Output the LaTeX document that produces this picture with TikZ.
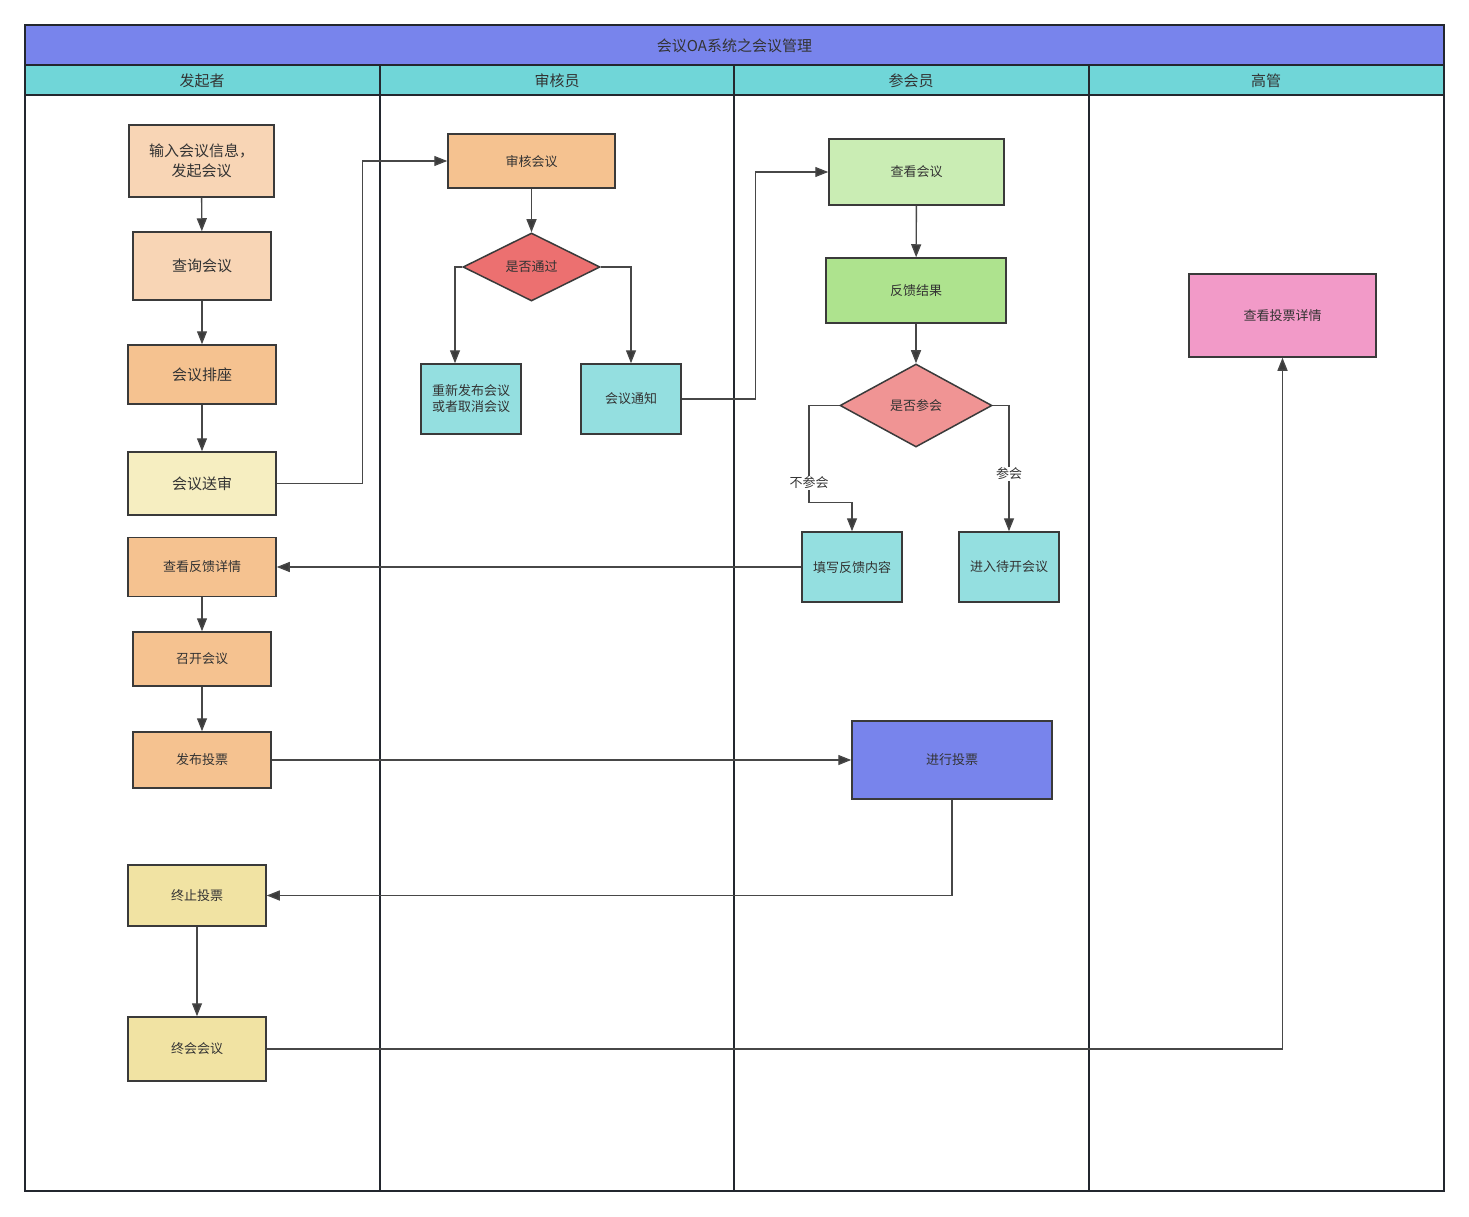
\documentclass[tikz,border=0pt]{standalone}
\usepackage{fontspec}
\setmainfont{Noto Sans CJK SC}
\usetikzlibrary{arrows.meta,shapes.geometric,calc}
\definecolor{titleblue}{HTML}{7884EC}
\definecolor{headcyan}{HTML}{70D6D8}
\definecolor{lanedark}{HTML}{23272E}
\definecolor{boxline}{HTML}{3A3A3A}
\definecolor{edgecol}{HTML}{474747}
\definecolor{txt}{HTML}{333333}
\definecolor{peach}{HTML}{F8D5B5}
\definecolor{orange}{HTML}{F5C290}
\definecolor{lyellow}{HTML}{F6EEC1}
\definecolor{khaki}{HTML}{F1E3A3}
\definecolor{cyanbox}{HTML}{94DFE0}
\definecolor{reddia}{HTML}{EC7070}
\definecolor{pinkdia}{HTML}{F09494}
\definecolor{lgreen}{HTML}{CAEDB4}
\definecolor{mgreen}{HTML}{AEE38E}
\definecolor{pinkbox}{HTML}{F29AC8}
\begin{document}
\begin{tikzpicture}[x=1pt,y=-1pt,
  box/.style={draw=boxline, line width=1.5pt, inner sep=0pt, align=center, text=txt,
    font=\fontsize{13}{16}\selectfont, text depth=1pt},
  big/.style={font=\fontsize{15}{20}\selectfont},
  wh/.style 2 args={minimum width=#1pt, minimum height=#2pt},
  dia/.style={box, diamond, shape aspect=#1},
  arr/.style={draw=edgecol, line width=1.4pt, -{Triangle[length=13pt,width=10pt,fill=boxline]}},
  lane/.style={draw=lanedark, line width=2pt},
  lbl/.style={fill=white, inner sep=1pt, text=txt, font=\fontsize{13}{16}\selectfont},
  head/.style={text=txt, font=\fontsize{15}{18}\selectfont, inner sep=0pt}
]
\useasboundingbox (0,0) rectangle (1469,1217);
\fill[white] (0,0) rectangle (1469,1217);
% pool and lanes
\fill[titleblue] (25,25) rectangle (1444,65);
\fill[headcyan] (25,65) rectangle (1444,95);
\draw[lane] (25,65) -- (1444,65);
\draw[lane] (25,95) -- (1444,95);
\draw[lane] (380,65) -- (380,1191);
\draw[lane] (734,65) -- (734,1191);
\draw[lane] (1089,65) -- (1089,1191);
\draw[lane] (25,25) rectangle (1444,1191);
\node[head] (title) at (734.5,46) {会议OA系统之会议管理};
\node[head] (h1) at (202,81) {发起者};
\node[head] (h2) at (557,81) {审核员};
\node[head] (h3) at (911,81) {参会员};
\node[head] (h4) at (1266,81) {高管};
% lane 1
\node[box, big, fill=peach, wh={145}{72}] (n1) at (201.5,161) {输入会议信息，\\发起会议};
\node[box, big, fill=peach, wh={138}{68}] (n2) at (202,266) {查询会议};
\node[box, big, fill=orange, wh={148}{59}] (n3) at (202,374.5) {会议排座};
\node[box, big, fill=lyellow, wh={148}{63}] (n4) at (202,483.5) {会议送审};
\node[box, fill=orange, wh={148}{59}] (n5) at (202,567) {查看反馈详情};
\node[box, fill=orange, wh={138}{54}] (n6) at (202,659) {召开会议};
\node[box, fill=orange, wh={138}{56}] (n7) at (202,760) {发布投票};
\node[box, fill=khaki, wh={138}{61}] (n8) at (197,895.5) {终止投票};
\node[box, fill=khaki, wh={138}{64}] (n9) at (197,1049) {终会会议};
% lane 2
\node[box, fill=orange, wh={167}{54}] (r1) at (531.5,161) {审核会议};
\node[dia=2, fill=reddia, wh={137}{68}] (d1) at (531.5,267) {是否通过};
\node[box, fill=cyanbox, wh={100}{70}] (r2) at (471,399) {重新发布会议\\或者取消会议};
\node[box, fill=cyanbox, wh={100}{70}] (r3) at (631,399) {会议通知};
% lane 3
\node[box, fill=lgreen, wh={175}{66}] (c1) at (916.5,172) {查看会议};
\node[box, fill=mgreen, wh={180}{65}] (c2) at (916,290.5) {反馈结果};
\node[dia=1.83, fill=pinkdia, wh={152}{83}] (d2) at (916,405.5) {是否参会};
\node[box, fill=cyanbox, wh={100}{70}] (c3) at (852,567) {填写反馈内容};
\node[box, fill=cyanbox, wh={100}{70}] (c4) at (1009,567) {进入待开会议};
\node[box, fill=titleblue, wh={200}{78}] (c5) at (952,760) {进行投票};
% lane 4
\node[box, fill=pinkbox, wh={187}{83}] (m1) at (1282.5,315.5) {查看投票详情};
% connectors
\draw[arr] (n1) -- (n2);
\draw[arr] (n2) -- (n3);
\draw[arr] (n3) -- (n4);
\draw[arr] (n4.east) -- ++(86,0) |- (r1.west);
\draw[arr] (r1) -- (d1);
\draw[arr] (d1.west) -| ([xshift=-16pt]r2.north);
\draw[arr] (d1.east) -| (r3.north);
\draw[arr] (r3.east) -- ++(74,0) |- (c1.west);
\draw[arr] (c1) -- (c2);
\draw[arr] (c2) -- (d2);
\coordinate (k1) at ($(c3.north)+(-43,-29)$);
\draw[arr] (d2.west) -| (k1) -| (c3.north);
\draw[arr] (d2.east) -| (c4.north);
\node[lbl] (l1) at (809,483) {不参会};
\node[lbl] (l2) at (1009,474) {参会};
\draw[arr] (c3.west) -- (n5.east);
\draw[arr] (n5) -- (n6);
\draw[arr] (n6) -- (n7);
\draw[arr] (n7.east) -- (c5.west);
\draw[arr] (c5.south) |- (n8.east);
\draw[arr] (n8) -- (n9);
\draw[arr] (n9.east) -| (m1.south);
\end{tikzpicture}
\end{document}
